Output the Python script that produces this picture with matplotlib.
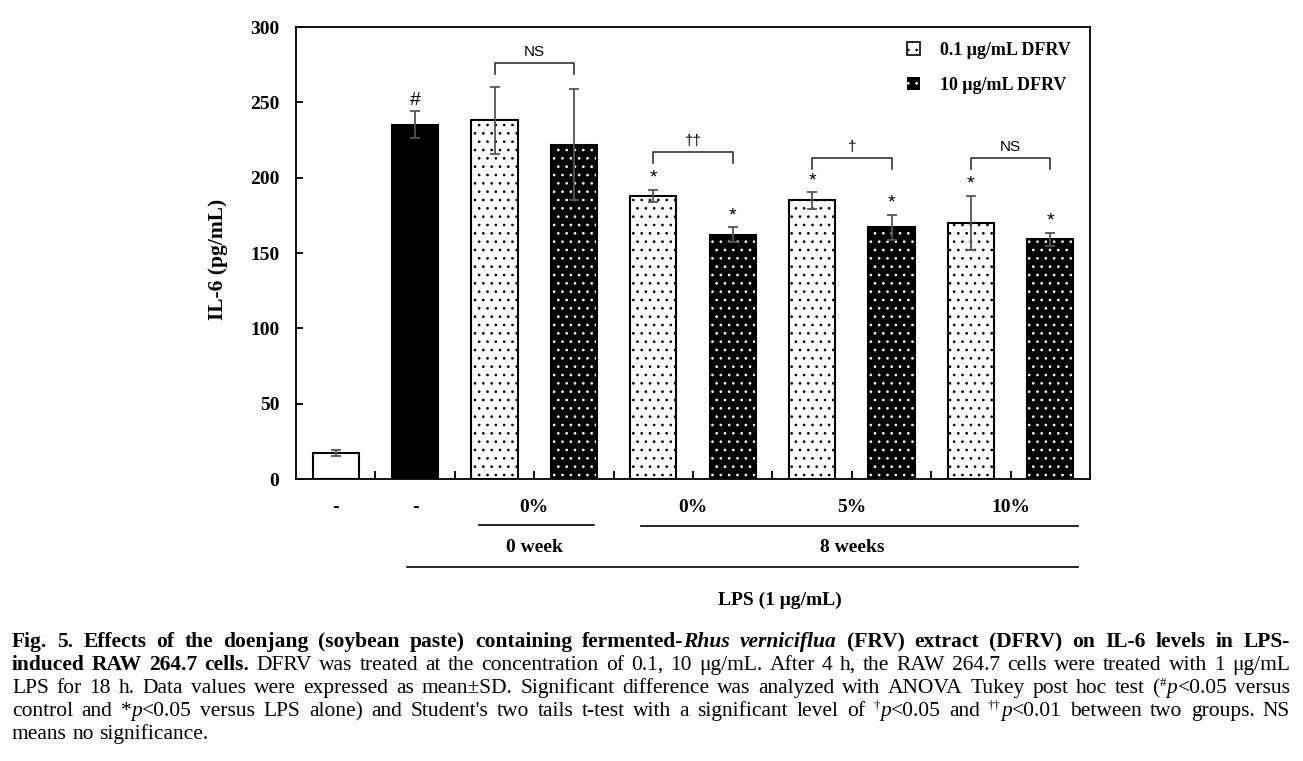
import matplotlib.pyplot as plt
from matplotlib.patches import Patch
from matplotlib.transforms import blended_transform_factory

plt.rcParams['font.family'] = ['Liberation Serif', 'DejaVu Serif']
plt.rcParams['hatch.linewidth'] = 0.7

''' DATA '''
bar_pos = [0, 1, 2, 3, 4, 5, 6, 7, 8, 9]
il6_mean = [17, 235, 238, 222, 188, 162, 185, 167, 170, 159]
il6_sd = [2, 9, 22, 37, 4, 5, 5.5, 8.5, 18, 4.5]
bar_kind = ['control', 'lps', 'low', 'high', 'low', 'high', 'low', 'high', 'low', 'high']
bar_marks = ['', '#', '', '', '*', '*', '*', '*', '*', '*']

pair_bars = [(2, 3), (4, 5), (6, 7), (8, 9)]
pair_text = ['NS', '\u2020\u2020', '\u2020', 'NS']
pair_level = [276, 217, 213, 213]

conc_labels = ['-', '-', '0%', '0%', '5%', '10%']
conc_pos = [0, 1, 2.5, 4.5, 6.5, 8.5]
week_labels = ['0 week', '8 weeks']
week_pos = [2.5, 6.5]
legend_labels = ['0.1 \u03bcg/mL DFRV', '10 \u03bcg/mL DFRV']

''' PLOTTING '''
W, H = 1303, 761
fig = plt.figure(figsize=(W / 100, H / 100), dpi=100)
ax = fig.add_axes([296 / W, 1 - 479 / H, (1090 - 296) / W, (479 - 27) / H])

bw = 0.58
for x, m, k in zip(bar_pos, il6_mean, bar_kind):
    if k == 'control':
        ax.bar(x, m, bw, color='white', edgecolor='black', linewidth=1.5, zorder=2)
    elif k == 'lps':
        ax.bar(x, m, bw, color='black', edgecolor='black', linewidth=1.5, zorder=2)
    elif k == 'low':
        ax.bar(x, m, bw, color='white', edgecolor='black', hatch='..', linewidth=1.5, zorder=2)
    else:
        ax.bar(x, m, bw, color='black', edgecolor='white', hatch='..', linewidth=0, zorder=2)
        ax.bar(x, m, bw, fill=False, edgecolor='black', linewidth=1.5, zorder=2)

ax.errorbar(bar_pos, il6_mean, yerr=il6_sd, fmt='none', ecolor='#555555',
            elinewidth=1.3, capsize=3.3, capthick=1.3, zorder=3)

for x, m, s, t in zip(bar_pos, il6_mean, il6_sd, bar_marks):
    if t:
        ax.text(x, m + s + 7.5, t, ha='center', va='center', fontsize=14,
                family='Liberation Sans')

for (a, b), t, yb in zip(pair_bars, pair_text, pair_level):
    ax.plot([a, a, b, b], [yb - 7, yb, yb, yb - 7], color='#333333', lw=1.2, zorder=3)
    ax.text((a + b) / 2, yb + 7.5, t, ha='center', va='center', fontsize=11,
            family='Liberation Sans')

ax.set_xlim(-0.5, 9.5)
ax.set_ylim(0, 300)
ax.set_yticks(range(0, 301, 50))
ax.set_xticks([i + 0.5 for i in range(9)])
ax.set_xticklabels([])
ax.tick_params(axis='y', direction='in', length=5, width=1.3, pad=12, labelsize=14)
ax.tick_params(axis='x', direction='in', length=6, width=1.3)
for lab in ax.get_yticklabels():
    lab.set_fontweight('bold')
for sp in ax.spines.values():
    sp.set_linewidth(1.3)

ax.set_ylabel('IL-6 (pg/mL)', fontsize=15.5, fontweight='bold')
ax.yaxis.set_label_coords(-0.086, 0.485)

h_low = Patch(facecolor='white', edgecolor='black', hatch='..', linewidth=1.2)
h_high = Patch(facecolor='black', edgecolor='white', hatch='..', linewidth=0)
ax.legend([h_low, h_high], legend_labels,
          loc='upper left', bbox_to_anchor=((907 - 296) / 794, (479 - 42) / 452),
          frameon=False, prop={'weight': 'bold', 'size': 13}, borderpad=0,
          borderaxespad=0, handlelength=0.72, handleheight=0.72, handletextpad=1.1,
          labelspacing=1.0)

# labels under the axis
tr = blended_transform_factory(ax.transData, fig.transFigure)
fy = lambda py: 1 - py / H
for x, t in zip(conc_pos, conc_labels):
    ax.text(x, fy(507), t, transform=tr, ha='center', va='center', fontsize=14,
            fontweight='bold')
ax.plot([1.8, 3.25], [fy(525), fy(525)], transform=tr, color='black', lw=1.2, clip_on=False)
ax.plot([3.85, 9.35], [fy(526), fy(526)], transform=tr, color='black', lw=1.2, clip_on=False)
for x, t in zip(week_pos, week_labels):
    ax.text(x, fy(548), t, transform=tr, ha='center', va='center', fontsize=14,
            fontweight='bold')
ax.plot([0.9, 9.35], [fy(567), fy(567)], transform=tr, color='black', lw=1.2, clip_on=False)
ax.text(5.6, fy(600), 'LPS (1 \u03bcg/mL)', transform=tr, ha='center', va='center',
        fontsize=14, fontweight='bold')

''' CAPTION '''
cap_lines = [
    [("Fig. 5. Effects of the doenjang (soybean paste) containing fermented-", 'b'),
     ("Rhus verniciflua", 'bi'),
     (" (FRV) extract (DFRV) on IL-6 levels in LPS-", 'b')],
    [("induced RAW 264.7 cells.", 'b'),
     (" DFRV was treated at the concentration of 0.1, 10 \u03bcg/mL. After 4 h, the RAW 264.7 cells were treated with 1 \u03bcg/mL", 'n')],
    [("LPS for 18 h. Data values were expressed as mean\u00b1SD. Significant difference was analyzed with ANOVA Tukey post hoc test (", 'n'),
     ("#", 'sup'), ("p", 'i'), ("<0.05 versus", 'n')],
    [("control and *", 'n'), ("p", 'i'),
     ("<0.05 versus LPS alone) and Student's two tails t-test with a significant level of ", 'n'),
     ("\u2020", 'sup'), ("p", 'i'), ("<0.05 and ", 'n'), ("\u2020\u2020", 'sup'), ("p", 'i'),
     ("<0.01 between two groups. NS", 'n')],
    [("means no significance.", 'n')],
]
cap_base = [647, 670, 693, 716, 739]
cap_fs = 15.5
cap_l, cap_r = 12, 1290
styles = {'b': dict(fontweight='bold'), 'bi': dict(fontweight='bold', fontstyle='italic'),
          'n': dict(), 'i': dict(fontstyle='italic'), 'sup': dict(fontsize=cap_fs * 0.6)}

rend = fig.canvas.get_renderer()
for li, (runs, yb) in enumerate(zip(cap_lines, cap_base)):
    words = [[]]
    for txt, st in runs:
        for k, p in enumerate(txt.split(' ')):
            if k > 0:
                words.append([])
            if p:
                words[-1].append((p, st))
    words = [w for w in words if w]
    placed = []
    for w in words:
        arts = []
        wx = 0
        for p, st in w:
            kw = dict(fontsize=cap_fs)
            kw.update(styles[st])
            dy = 7 if st == 'sup' else 0
            t = fig.text(0, fy(yb - dy), p, va='baseline', ha='left', **kw)
            wd = t.get_window_extent(rend).width
            arts.append((t, wx, dy))
            wx += wd
        placed.append((arts, wx))
    total = sum(wx for _, wx in placed)
    if li < len(cap_lines) - 1:
        gap = (cap_r - cap_l - total) / (len(placed) - 1)
    else:
        gap = cap_fs * 0.25 * 100 / 72
    x = cap_l
    for arts, wx in placed:
        for t, ox, dy in arts:
            t.set_x((x + ox) / W)
        x += wx + gap

fig.savefig('out.png', dpi=100)
